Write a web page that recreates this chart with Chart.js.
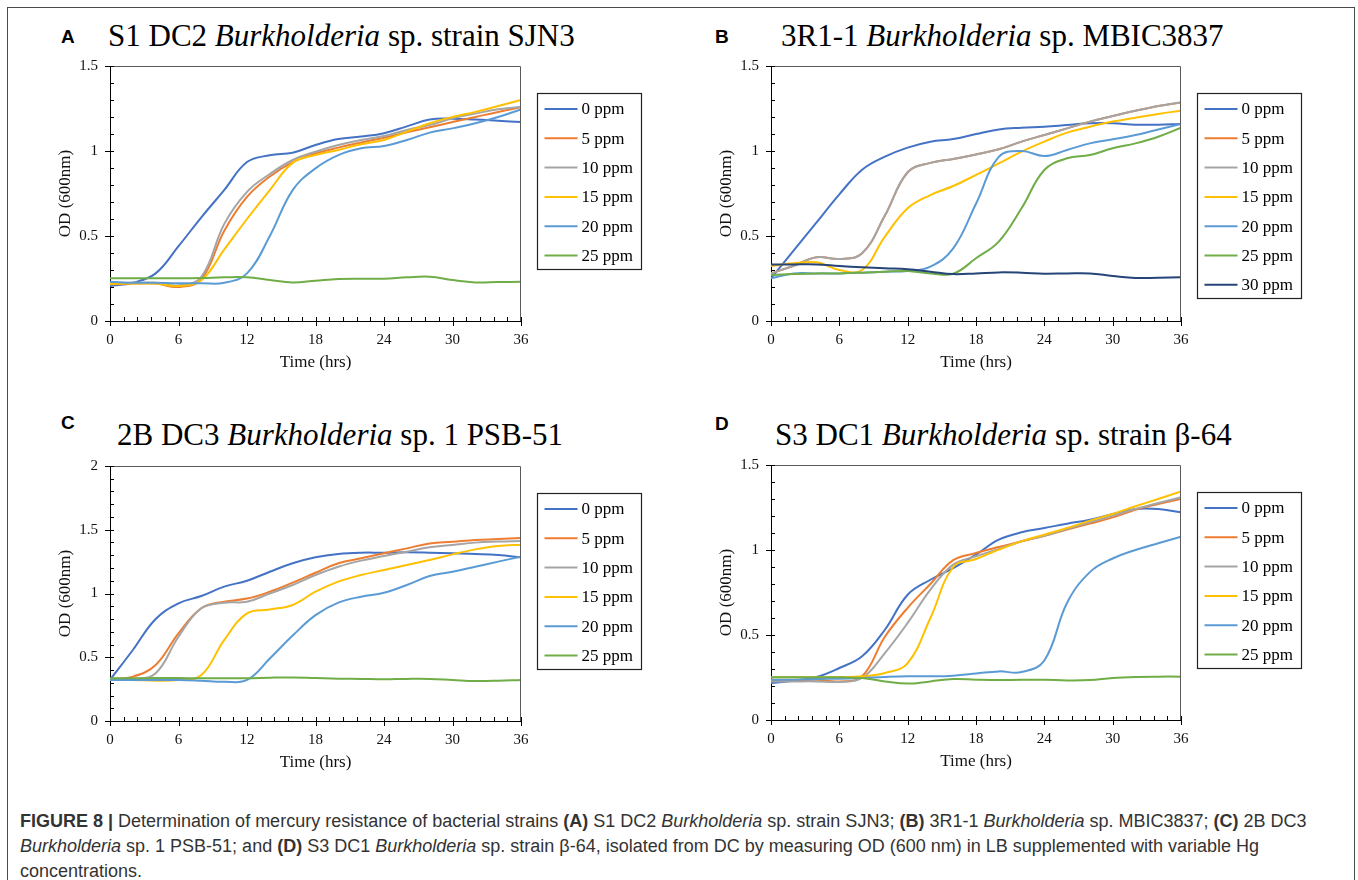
<!DOCTYPE html>
<html>
<head>
<meta charset="utf-8">
<script src="https://cdn.jsdelivr.net/npm/chart.js@4.4.1/dist/chart.umd.min.js"></script>
<style>
  html, body { margin: 0; padding: 0; background: #fff; }
  body { position: relative; width: 1358px; height: 880px; overflow: hidden; }
  .frame { position: absolute; left: 7px; top: 7px; width: 1348px; height: 900px; border: 1px solid #4a4a4a; box-sizing: border-box; }
  .lbl { position: absolute; font: bold 19px "Liberation Sans", Arial, sans-serif; line-height: 19px; color: #000; }
  .ttl { position: absolute; font: 31px "Liberation Serif", "Times New Roman", serif; line-height: 31px; color: #000; white-space: nowrap; }
  canvas { position: absolute; }
  .cap { position: absolute; left: 20px; top: 809px; font-family: "Liberation Sans", Arial, sans-serif; font-size: 16px; line-height: 25px; color: #333; white-space: nowrap; }
</style>
</head>
<body>
<div class="frame"></div>

<div class="lbl" style="left:61px;top:27px;">A</div>
<div class="ttl" style="left:108px;top:20px;">S1 DC2 <i>Burkholderia</i> sp. strain SJN3</div>
<div class="lbl" style="left:715px;top:27px;">B</div>
<div class="ttl" style="left:781px;top:20px;">3R1-1 <i>Burkholderia</i> sp. MBIC3837</div>
<div class="lbl" style="left:61px;top:413px;">C</div>
<div class="ttl" style="left:117px;top:419px;">2B DC3 <i>Burkholderia</i> sp. 1 PSB-51</div>
<div class="lbl" style="left:715px;top:414px;">D</div>
<div class="ttl" style="left:775px;top:419px;">S3 DC1 <i>Burkholderia</i> sp. strain β-64</div>

<canvas id="cA" width="601" height="336" style="left:50px;top:45px;"></canvas>
<canvas id="cB" width="600" height="336" style="left:711px;top:45px;"></canvas>
<canvas id="cC" width="601" height="336" style="left:50px;top:445px;"></canvas>
<canvas id="cD" width="600" height="336" style="left:711px;top:444px;"></canvas>

<div class="cap" id="cap"><span id="l1"><b>FIGURE 8 |</b> Determination of mercury resistance of bacterial strains <b>(A)</b> S1 DC2 <i>Burkholderia</i> sp. strain SJN3; <b>(B)</b> 3R1-1 <i>Burkholderia</i> sp. MBIC3837; <b>(C)</b> 2B DC3</span><br><i>Burkholderia</i> sp. 1 PSB-51; and <b>(D)</b> S3 DC1 <i>Burkholderia</i> sp. strain β-64, isolated from DC by measuring OD (600 nm) in LB supplemented with variable Hg<br>concentrations.</div>

<script>
// ---------- data ----------
const hours = [0, 2, 4, 6, 8, 10, 12, 14, 16, 18, 20, 22, 24, 26, 28, 30, 32, 34, 36];
const ppmLabels = ['0 ppm', '5 ppm', '10 ppm', '15 ppm', '20 ppm', '25 ppm', '30 ppm'];
const seriesColors = ['#4472C4', '#ED7D31', '#A5A5A5', '#FFC000', '#5B9BD5', '#70AD47', '#264478'];
const xTickValues = [0, 6, 12, 18, 24, 30, 36];

// Panel A: S1 DC2 Burkholderia sp. strain SJN3
const a0  = [0.206, 0.225, 0.28, 0.44, 0.61, 0.77, 0.935, 0.975, 0.99, 1.035, 1.07, 1.085, 1.105, 1.145, 1.185, 1.19, 1.185, 1.178, 1.17];
const a5  = [0.216, 0.22, 0.22, 0.2, 0.245, 0.53, 0.73, 0.85, 0.935, 0.985, 1.02, 1.05, 1.078, 1.11, 1.14, 1.17, 1.2, 1.23, 1.257];
const a10 = [0.225, 0.225, 0.225, 0.21, 0.26, 0.57, 0.76, 0.865, 0.947, 0.996, 1.035, 1.065, 1.088, 1.124, 1.153, 1.192, 1.22, 1.245, 1.26];
const a15 = [0.218, 0.22, 0.22, 0.206, 0.24, 0.42, 0.6, 0.77, 0.93, 0.976, 1.006, 1.04, 1.065, 1.114, 1.163, 1.2, 1.23, 1.265, 1.3];
const a20 = [0.231, 0.225, 0.225, 0.222, 0.222, 0.225, 0.28, 0.5, 0.77, 0.898, 0.976, 1.016, 1.03, 1.065, 1.108, 1.133, 1.163, 1.2, 1.245];
const a25 = [0.251, 0.251, 0.251, 0.251, 0.253, 0.257, 0.257, 0.241, 0.227, 0.237, 0.247, 0.249, 0.249, 0.257, 0.261, 0.241, 0.227, 0.229, 0.231];

// Panel B: 3R1-1 Burkholderia sp. MBIC3837
const b0  = [0.251, 0.415, 0.58, 0.745, 0.89, 0.967, 1.02, 1.055, 1.07, 1.1, 1.127, 1.137, 1.143, 1.153, 1.163, 1.163, 1.155, 1.155, 1.159];
const b5  = [0.28, 0.325, 0.375, 0.365, 0.398, 0.62, 0.875, 0.93, 0.953, 0.98, 1.01, 1.055, 1.094, 1.133, 1.173, 1.206, 1.237, 1.265, 1.286];
const b10 = [0.28, 0.325, 0.375, 0.365, 0.398, 0.62, 0.875, 0.93, 0.953, 0.98, 1.01, 1.055, 1.094, 1.133, 1.173, 1.206, 1.237, 1.265, 1.286];
const b15 = [0.324, 0.339, 0.345, 0.3, 0.3, 0.496, 0.663, 0.741, 0.794, 0.859, 0.927, 0.996, 1.055, 1.108, 1.143, 1.173, 1.196, 1.218, 1.237];
const b20 = [0.251, 0.28, 0.28, 0.28, 0.284, 0.29, 0.294, 0.32, 0.427, 0.69, 0.965, 1.0, 0.97, 1.006, 1.045, 1.069, 1.094, 1.127, 1.159];
const b25 = [0.27, 0.276, 0.28, 0.28, 0.284, 0.29, 0.294, 0.28, 0.278, 0.369, 0.467, 0.663, 0.888, 0.957, 0.976, 1.016, 1.045, 1.084, 1.137];
const b30 = [0.333, 0.333, 0.333, 0.324, 0.316, 0.31, 0.304, 0.29, 0.276, 0.28, 0.286, 0.284, 0.278, 0.28, 0.28, 0.265, 0.253, 0.255, 0.257];

// Panel C: 2B DC3 Burkholderia sp. 1 PSB-51
const c0  = [0.322, 0.557, 0.8, 0.923, 0.98, 1.054, 1.1, 1.171, 1.237, 1.284, 1.31, 1.32, 1.32, 1.323, 1.32, 1.315, 1.31, 1.302, 1.284];
const c5  = [0.33, 0.348, 0.44, 0.688, 0.884, 0.936, 0.96, 1.014, 1.085, 1.163, 1.237, 1.276, 1.315, 1.354, 1.393, 1.406, 1.42, 1.427, 1.435];
const c10 = [0.322, 0.327, 0.374, 0.661, 0.884, 0.928, 0.936, 1.0, 1.067, 1.145, 1.21, 1.258, 1.294, 1.328, 1.362, 1.38, 1.399, 1.407, 1.412];
const c15 = [0.322, 0.322, 0.316, 0.322, 0.36, 0.635, 0.844, 0.875, 0.91, 1.014, 1.093, 1.145, 1.184, 1.224, 1.263, 1.307, 1.346, 1.373, 1.383];
const c20 = [0.322, 0.322, 0.322, 0.322, 0.316, 0.308, 0.322, 0.49, 0.67, 0.83, 0.928, 0.975, 1.006, 1.067, 1.137, 1.171, 1.21, 1.25, 1.289];
const c25 = [0.335, 0.335, 0.337, 0.337, 0.335, 0.335, 0.335, 0.34, 0.342, 0.337, 0.332, 0.33, 0.327, 0.33, 0.33, 0.322, 0.314, 0.316, 0.322];

// Panel D: S3 DC1 Burkholderia sp. strain β-64
const d0  = [0.218, 0.231, 0.253, 0.306, 0.375, 0.531, 0.737, 0.825, 0.894, 0.973, 1.061, 1.104, 1.129, 1.155, 1.178, 1.212, 1.241, 1.241, 1.222];
const d5  = [0.231, 0.233, 0.237, 0.227, 0.257, 0.49, 0.66, 0.8, 0.94, 0.982, 1.018, 1.051, 1.084, 1.12, 1.155, 1.192, 1.237, 1.27, 1.3];
const d10 = [0.227, 0.227, 0.227, 0.224, 0.247, 0.394, 0.571, 0.767, 0.914, 0.963, 1.006, 1.051, 1.084, 1.124, 1.163, 1.202, 1.241, 1.276, 1.31];
const d15 = [0.251, 0.251, 0.251, 0.253, 0.257, 0.276, 0.335, 0.6, 0.9, 0.947, 1.002, 1.051, 1.09, 1.129, 1.173, 1.212, 1.257, 1.3, 1.345];
const d20 = [0.237, 0.237, 0.241, 0.243, 0.247, 0.253, 0.257, 0.257, 0.261, 0.273, 0.286, 0.282, 0.35, 0.69, 0.87, 0.95, 1.0, 1.04, 1.078];
const d25 = [0.251, 0.251, 0.251, 0.251, 0.247, 0.227, 0.214, 0.227, 0.241, 0.237, 0.235, 0.237, 0.237, 0.233, 0.235, 0.247, 0.253, 0.255, 0.255];

// ---------- chart setup ----------
Chart.defaults.font.family = '"Liberation Serif", "Times New Roman", serif';
Chart.defaults.color = '#000';

// plot frame (top/right) plus Excel-style major & minor tick marks
const axisFrame = {
  id: 'axisFrame',
  afterDatasetsDraw(chart, args, o) {
    const {ctx, chartArea: a, scales: {x, y}} = chart;
    ctx.save();
    ctx.strokeStyle = '#5a5a5a';
    ctx.lineWidth = 1;
    ctx.beginPath();
    ctx.moveTo(a.left, a.top + 0.5);
    ctx.lineTo(a.right - 0.5, a.top + 0.5);
    ctx.lineTo(a.right - 0.5, a.bottom);
    ctx.stroke();
    ctx.strokeStyle = '#000';
    const nx = Math.round((x.max - x.min) / o.xMinor);
    for (let i = 0; i <= nx; i++) {
      const px = Math.round(x.getPixelForValue(x.min + i * o.xMinor)) + 0.5;
      const major = i % o.perMajor === 0;
      ctx.beginPath();
      ctx.moveTo(px, a.bottom - 4);
      ctx.lineTo(px, a.bottom + (major ? 5 : 0));
      ctx.stroke();
    }
    const ny = Math.round((y.max - y.min) / o.yMinor);
    for (let i = 0; i <= ny; i++) {
      const py = Math.round(y.getPixelForValue(y.min + i * o.yMinor)) + 0.5;
      const major = i % o.perMajor === 0;
      ctx.beginPath();
      ctx.moveTo(a.left - (major ? 5 : 0), py);
      ctx.lineTo(a.left + 4, py);
      ctx.stroke();
    }
    ctx.restore();
  }
};

// boxed legend to the right of the plot, built from the chart's datasets
const boxLegend = {
  id: 'boxLegend',
  afterDraw(chart, args, o) {
    const {ctx, chartArea: a} = chart;
    const ds = chart.data.datasets;
    const x0 = Math.round(a.right + o.gap) + 0.5;
    const y0 = Math.round(a.top + o.top) + 0.5;
    const h = Math.round(o.padTop + (ds.length - 1) * o.rowGap + o.padBottom);
    ctx.save();
    ctx.strokeStyle = '#222';
    ctx.lineWidth = 1.2;
    ctx.strokeRect(x0, y0, o.width, h);
    ctx.font = o.font;
    ctx.textBaseline = 'middle';
    ctx.textAlign = 'left';
    ds.forEach((d, i) => {
      const yy = y0 + o.padTop + i * o.rowGap;
      ctx.strokeStyle = d.borderColor;
      ctx.lineWidth = d.borderWidth;
      ctx.beginPath();
      ctx.moveTo(x0 + o.lineStart, yy);
      ctx.lineTo(x0 + o.lineStart + o.lineLen, yy);
      ctx.stroke();
      ctx.fillStyle = '#000';
      ctx.fillText(d.label, x0 + o.textStart, yy + 1);
    });
    ctx.restore();
  }
};

function makeChart(id, series, yMax) {
  const datasets = series.map((vals, i) => ({
    label: ppmLabels[i],
    data: hours.map((h, k) => ({x: h, y: vals[k]})),
    borderColor: seriesColors[i],
    backgroundColor: seriesColors[i],
    borderWidth: 2,
    pointRadius: 0,
    tension: 0.4,
    fill: false,
    order: series.length - i
  }));
  return new Chart(document.getElementById(id), {
    type: 'line',
    data: {datasets},
    options: {
      responsive: false,
      animation: false,
      events: [],
      layout: {padding: {left: 0, top: 21, right: 130, bottom: 0}},
      plugins: {
        legend: {display: false},
        tooltip: {enabled: false},
        axisFrame: {xMinor: 1.2, yMinor: 0.1, perMajor: 5},
        boxLegend: {gap: 16, top: 26.5, width: 104, padTop: 15.5, rowGap: 29.3, padBottom: 14,
                    lineStart: 7, lineLen: 33, textStart: 44, font: '17px "Liberation Serif", "Times New Roman", serif'}
      },
      scales: {
        x: {
          type: 'linear', min: 0, max: 36,
          afterFit: (s) => { s.height = 60; },
          afterBuildTicks: (s) => { s.ticks = xTickValues.map(v => ({value: v})); },
          ticks: {padding: 10, color: '#111', font: {size: 15}, maxRotation: 0, autoSkip: false,
                  callback: (v) => String(v)},
          grid: {display: false, drawTicks: false},
          border: {display: true, color: '#000', width: 1},
          title: {display: true, text: 'Time (hrs)', color: '#111', font: {size: 17}, padding: {top: 0, bottom: 8}}
        },
        y: {
          type: 'linear', min: 0, max: yMax,
          afterFit: (s) => { s.width = 60; },
          ticks: {stepSize: 0.5, padding: 12, color: '#111', font: {size: 15}, callback: (v) => String(v)},
          grid: {display: false, drawTicks: false},
          border: {display: true, color: '#000', width: 1},
          title: {display: true, text: 'OD (600nm)', color: '#111', font: {size: 17}, padding: {top: 5, bottom: 0}}
        }
      }
    },
    plugins: [axisFrame, boxLegend]
  });
}

makeChart('cA', [a0, a5, a10, a15, a20, a25], 1.5);
makeChart('cB', [b0, b5, b10, b15, b20, b25, b30], 1.5);
makeChart('cC', [c0, c5, c10, c15, c20, c25], 2);
makeChart('cD', [d0, d5, d10, d15, d20, d25], 1.5);

// fit caption first line to the reference width
(function () {
  const l1 = document.getElementById('l1');
  const w = l1.getBoundingClientRect().width;
  if (w > 0) {
    let fs = 16 * 1298 / w;
    fs = Math.max(14, Math.min(18, fs));
    document.getElementById('cap').style.fontSize = fs.toFixed(2) + 'px';
  }
})();
</script>
</body>
</html>
